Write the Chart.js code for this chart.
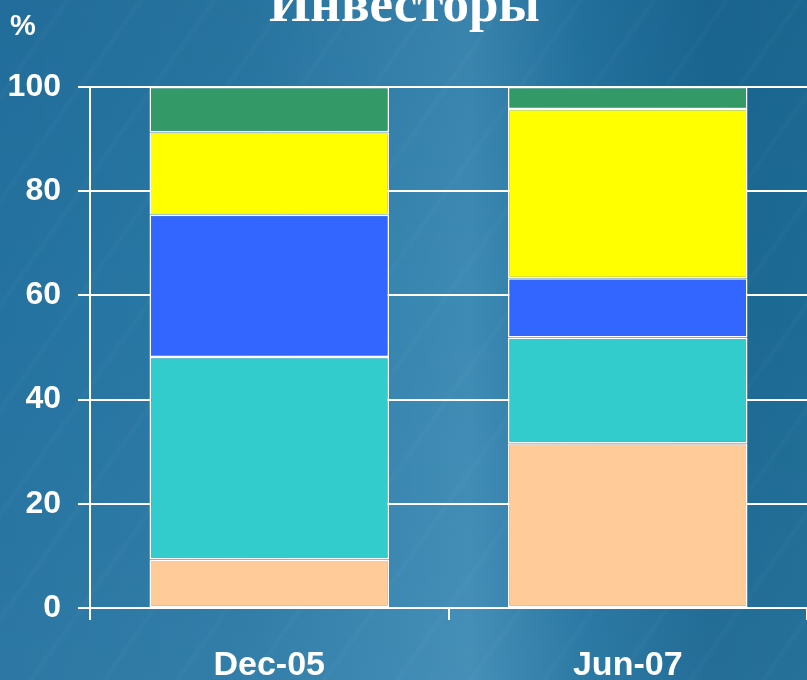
<!DOCTYPE html>
<html>
<head>
<meta charset="utf-8">
<script src="https://cdn.jsdelivr.net/npm/chart.js@4"></script>
<style>
  html, body { margin: 0; padding: 0; overflow: hidden; }
  body {
    width: 807px; height: 680px;
    background:
      repeating-linear-gradient(125deg, rgba(255,255,255,0) 0px, rgba(255,255,255,0) 52px, rgba(255,255,255,0.025) 55px, rgba(255,255,255,0) 60px),
      linear-gradient(180deg, rgba(10,60,100,0.10) 0%, rgba(0,0,0,0) 45%, rgba(255,255,255,0.04) 100%),
      linear-gradient(90deg, #2472a0 0%, #2a79a5 30%, #3886b1 50%, #3e8bb5 58%, #2575a2 72%, #1b6893 88%, #1d6b95 100%);
  }
  #wrap { position: relative; width: 807px; height: 680px; }
</style>
</head>
<body>
<div id="wrap"><canvas id="invest"></canvas></div>
<script>
// values, % of total
var periods = ['Dec-05', 'Jun-07'];
var peach  = [9.3, 31.6];
var teal   = [38.9, 20.3];
var blue   = [27.3, 11.4];
var yellow = [15.8, 32.5];
var green  = [8.7, 4.2];
var yTicks = [0, 20, 40, 60, 80, 100];

var titleText = 'Инвесторы';

// title (cut off at the top edge) and the "%" unit label
var extraText = {
    id: 'extraText',
    afterDraw: function(chart) {
        var ctx = chart.ctx;
        ctx.save();
        ctx.fillStyle = '#ffffff';
        ctx.textBaseline = 'alphabetic';
        ctx.textAlign = 'center';
        ctx.font = 'bold 53px "Liberation Serif", "Times New Roman", serif';
        ctx.fillText(titleText, chart.width / 2 + 1, 21);
        ctx.textAlign = 'left';
        ctx.font = 'bold 29px "Liberation Sans", Arial, sans-serif';
        ctx.fillText('%', 10, 35);
        ctx.restore();
    }
};

function makeSet(name, values, color) {
    return {
        label: name,
        data: values,
        backgroundColor: color,
        borderColor: '#ffffff',
        borderWidth: 1.5,
        borderSkipped: false,
        categoryPercentage: 1,
        barPercentage: 0.668
    };
}

var ctx = document.getElementById('invest').getContext('2d');
var myChart = new Chart(ctx, {
    type: 'bar',
    data: {
        labels: periods,
        datasets: [
            makeSet('1', peach, '#ffcc99'),
            makeSet('2', teal, '#33cccc'),
            makeSet('3', blue, '#3366ff'),
            makeSet('4', yellow, '#ffff00'),
            makeSet('5', green, '#339966')
        ]
    },
    plugins: [extraText],
    options: {
        responsive: true,
        maintainAspectRatio: false,
        animation: false,
        layout: {
            padding: { left: 0, right: 0, top: 87, bottom: 0 }
        },
        scales: {
            x: {
                stacked: true,
                afterFit: function(scale) { scale.height = 72; },
                grid: {
                    offset: true,
                    drawOnChartArea: false,
                    color: '#ffffff',
                    lineWidth: 2,
                    tickLength: 12
                },
                border: { display: true, color: '#ffffff', width: 2 },
                ticks: {
                    color: '#ffffff',
                    padding: 25,
                    font: { family: '"Liberation Sans", Arial, sans-serif', size: 34, weight: 'bold' }
                }
            },
            y: {
                stacked: true,
                min: 0,
                max: 100,
                afterFit: function(scale) { scale.width = 90; },
                afterBuildTicks: function(scale) {
                    scale.ticks = yTicks.map(function(v) { return { value: v }; });
                },
                grid: {
                    color: '#ffffff',
                    lineWidth: 2,
                    tickLength: 12
                },
                border: { display: true, color: '#ffffff', width: 2 },
                ticks: {
                    color: '#ffffff',
                    padding: 17,
                    font: { family: '"Liberation Sans", Arial, sans-serif', size: 32, weight: 'bold' }
                }
            }
        },
        plugins: {
            legend: { display: false },
            title: { display: false },
            tooltip: { enabled: false }
        }
    }
});
</script>
</body>
</html>
